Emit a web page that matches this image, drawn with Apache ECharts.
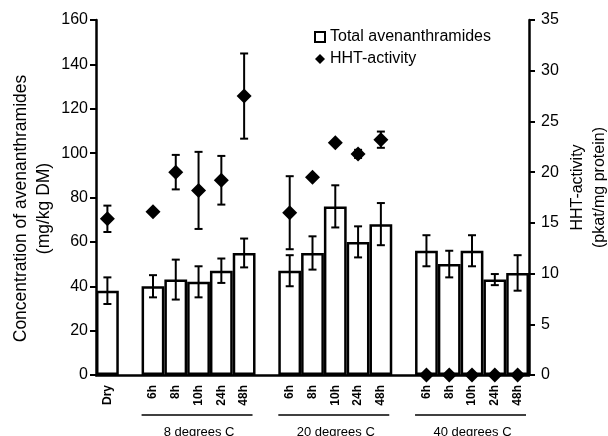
<!DOCTYPE html>
<html>
<head>
<meta charset="utf-8">
<script src="https://cdn.jsdelivr.net/npm/echarts@6/dist/echarts.min.js"></script>
<style>html,body{margin:0;padding:0;background:#fff}#c{width:608px;height:436px}</style>
</head>
<body>
<div id="c"></div>
<script>
var categories = ['Dry','','6h','8h','10h','24h','48h','','6h','8h','10h','24h','48h','','6h','8h','10h','24h','48h'];
var avenanthramides = [38,null,40,43,42,47,55,null,47,55,76,60,68,null,56,50,56,43,46];
var avenanthramidesErr = [6,null,5,9,7,5.5,6.5,null,7,7.5,9.5,7,9.5,null,7,6,7,2.5,8];
var hhtActivity = [15.4,null,16.1,20.0,18.2,19.2,27.5,null,16.0,19.5,22.9,21.8,23.2,null,0,0,0,0,0];
var hhtActivityErr = [1.3,null,0,1.7,3.8,2.4,4.2,null,3.6,0,0,0.4,0.8,null,0,0,0,0,0];
var leftTicks = {min:0, max:160, interval:20};
var rightTicks = {min:0, max:35, interval:5};
var groupLabels = ['8 degrees C','20 degrees C','40 degrees C'];
var groupStart = [2,8,14];
var groupEnd = [6,12,18];

var FONT = "'Liberation Sans', Arial, Helvetica, sans-serif";
var chart = echarts.init(document.getElementById('c'), null, {renderer:'canvas'});

function errData(vals, errs){
  var out = [];
  for (var i=0;i<vals.length;i++){
    if (vals[i]!=null && errs[i]) out.push([i, vals[i], errs[i]]);
  }
  return out;
}
function errRender(params, api){
  var x = api.value(0), v = api.value(1), e = api.value(2);
  var hi = api.coord([x, v+e]), lo = api.coord([x, v-e]);
  var w = 4;
  var st = {stroke:'#000', lineWidth:2};
  return {type:'group', children:[
    {type:'line', shape:{x1:hi[0],y1:hi[1],x2:lo[0],y2:lo[1]}, style:st},
    {type:'line', shape:{x1:hi[0]-w,y1:hi[1],x2:hi[0]+w,y2:hi[1]}, style:st},
    {type:'line', shape:{x1:lo[0]-w,y1:lo[1],x2:lo[0]+w,y2:lo[1]}, style:st}
  ]};
}

var option = {
  animation:false,
  textStyle:{fontFamily:FONT, color:'#000'},
  grid:{left:96, right:79, top:20, bottom:61, outerBoundsMode:'none', containLabel:false},
  legend:{
    orient:'vertical', left:309, top:24, itemGap:6, itemWidth:10, itemHeight:10,
    textStyle:{fontFamily:FONT, fontSize:16, color:'#000'},
    data:[{name:'Total avenanthramides', icon:'rect'},{name:'HHT-activity', icon:'diamond'}]
  },
  xAxis:{
    type:'category', data:categories, boundaryGap:true,
    axisLine:{lineStyle:{color:'#000', width:2.5}},
    axisTick:{show:false},
    axisLabel:{interval:0, rotate:90, fontSize:12, fontWeight:'bold', color:'#000', margin:10, fontFamily:FONT}
  },
  yAxis:[{
    type:'value', min:leftTicks.min, max:leftTicks.max, interval:leftTicks.interval,
    name:'Concentration of avenanthramides\n(mg/kg DM)', nameLocation:'middle', nameRotate:90, nameGap:40,
    nameMoveOverlap:false,
    nameTextStyle:{fontSize:17.5, color:'#000', fontFamily:FONT, lineHeight:23, padding:[0,22,0,0]},
    axisLine:{show:true, lineStyle:{color:'#000', width:2.5}},
    axisTick:{show:true, length:6, lineStyle:{color:'#000', width:2}},
    axisLabel:{fontSize:16, color:'#000', margin:8, fontFamily:FONT},
    splitLine:{show:false}
  },{
    type:'value', position:'right', min:rightTicks.min, max:rightTicks.max, interval:rightTicks.interval,
    name:'HHT-activity\n(pkat/mg protein)', nameLocation:'middle', nameRotate:90, nameGap:38,
    nameMoveOverlap:false,
    nameTextStyle:{fontSize:16, color:'#000', fontFamily:FONT, lineHeight:22, padding:[0,0,0,20]},
    axisLine:{show:true, lineStyle:{color:'#000', width:2.5}},
    axisTick:{show:true, length:6, lineStyle:{color:'#000', width:2}},
    axisLabel:{fontSize:16, color:'#000', margin:12, fontFamily:FONT},
    splitLine:{show:false}
  }],
  series:[{
    name:'Total avenanthramides', type:'bar', yAxisIndex:0, barCategoryGap:'0%',
    data:avenanthramides.map(function(v){return v==null?'-':v;}),
    itemStyle:{color:'#fff', borderColor:'#000', borderWidth:2.5},
    z:2
  },{
    name:'avenErr', type:'custom', yAxisIndex:0, renderItem:errRender,
    data:errData(avenanthramides, avenanthramidesErr), z:3, clip:false
  },{
    name:'hhtErr', type:'custom', yAxisIndex:1, renderItem:errRender,
    data:errData(hhtActivity, hhtActivityErr), z:4, clip:false
  },{
    name:'HHT-activity', type:'scatter', yAxisIndex:1, symbol:'diamond', symbolSize:15,
    data:hhtActivity.map(function(v){return v==null?'-':v;}),
    itemStyle:{color:'#000', opacity:1}, z:5, clip:false
  }]
};
chart.setOption(option);

var x0 = chart.convertToPixel({xAxisIndex:0}, 0);
var x1 = chart.convertToPixel({xAxisIndex:0}, 1);
var half = (x1 - x0)/2;
var yBase = chart.convertToPixel({yAxisIndex:0}, 0);
var graphics = [];
for (var g=0; g<groupLabels.length; g++){
  var a = chart.convertToPixel({xAxisIndex:0}, groupStart[g]) - half;
  var b = chart.convertToPixel({xAxisIndex:0}, groupEnd[g]) + half - 3;
  graphics.push({type:'line', shape:{x1:a, y1:yBase+40, x2:b, y2:yBase+40}, style:{stroke:'#000', lineWidth:1.5}});
  graphics.push({type:'text', x:(a+b)/2 + 2, y:yBase+57, style:{text:groupLabels[g], font:'13px '+FONT, fill:'#000', textAlign:'center', textVerticalAlign:'middle'}});
}
chart.setOption({graphic:graphics});
</script>
</body>
</html>
